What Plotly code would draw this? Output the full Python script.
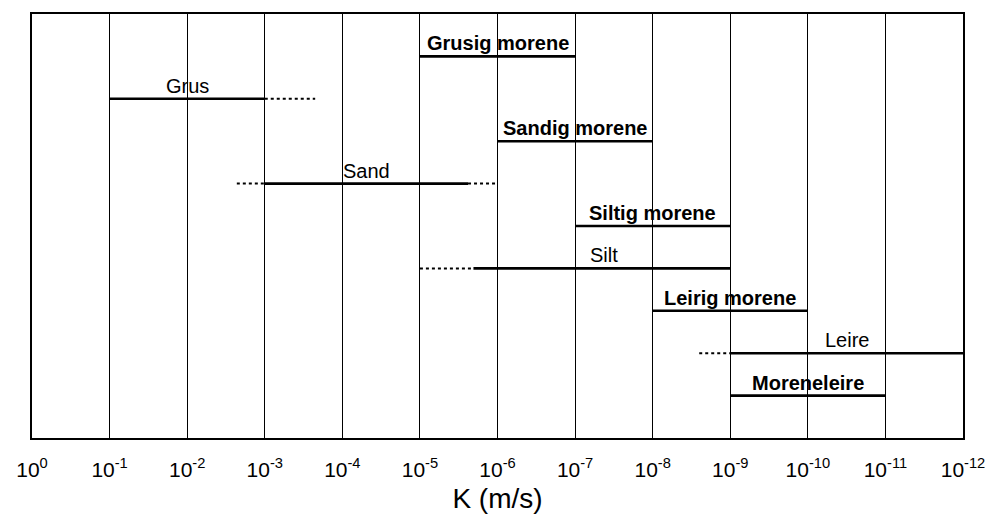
import numpy as np
import plotly.graph_objects as go

# ---- data ----
names = ["Grusig morene", "Grus", "Sandig morene", "Sand", "Siltig morene",
         "Silt", "Leirig morene", "Leire", "Moreneleire"]
rows = [1, 2, 3, 4, 5, 6, 7, 8, 9]
# solid range of K (m/s): high, low
solid_hi = [1e-5, 1e-1, 1e-6, 1e-3, 1e-7, 10**-5.69, 1e-8, 1e-9, 1e-9]
solid_lo = [1e-7, 1e-3, 1e-8, 10**-5.62, 1e-9, 1e-9, 1e-10, 1e-12, 1e-11]
# uncertain (dotted) extensions: list of (from, to) per row
dotted = {
    "Grus": [(1e-3, 10**-3.65)],
    "Sand": [(10**-2.64, 1e-3), (10**-5.62, 1e-6)],
    "Silt": [(1e-5, 10**-5.69)],
    "Leire": [(10**-8.6, 1e-9)],
}
label_x = [1e-6, 1e-2, 1e-7, 10**-4.31, 1e-8, 10**-7.37, 1e-9, 10**-10.5, 1e-10]
bold = [True, False, True, False, True, False, True, False, True]

exps = list(range(0, -13, -1))
tick_vals = [10.0**e for e in exps]
tick_text = ["10<sup>%d</sup>" % e for e in exps]

fig = go.Figure()
for i, n in enumerate(names):
    fig.add_trace(go.Scatter(x=[solid_hi[i], solid_lo[i]], y=[rows[i], rows[i]],
                             mode="lines", line=dict(color="black", width=2.6),
                             showlegend=False, hoverinfo="skip"))
    for (a, b) in dotted.get(n, []):
        fig.add_trace(go.Scatter(x=[a, b], y=[rows[i], rows[i]], mode="lines",
                                 line=dict(color="black", width=2, dash="dot"),
                                 showlegend=False, hoverinfo="skip"))
    txt = "<b>%s</b>" % n if bold[i] else n
    fig.add_annotation(x=np.log10(label_x[i]), y=rows[i], text=txt, showarrow=False,
                       yanchor="middle", yshift=13,
                       font=dict(family="Liberation Sans, Arial", size=20, color="black"))

fig.update_xaxes(type="log", range=[0, -12], tickvals=tick_vals, ticktext=tick_text,
                 showgrid=True, gridcolor="black", gridwidth=1.3,
                 showline=True, linecolor="black", linewidth=1.8, mirror=True,
                 ticks="", ticklabelstandoff=12, zeroline=False, automargin=False,
                 ticklabeloverflow="allow",
                 tickfont=dict(family="Liberation Sans, Arial", size=21, color="black"),
                 title=dict(text="K (m/s)", standoff=8,
                            font=dict(family="Liberation Sans, Arial", size=28, color="black")))
fig.update_yaxes(range=[10, 0], showgrid=False, showticklabels=False, zeroline=False,
                 showline=True, linecolor="black", linewidth=1.8, mirror=True, ticks="",
                 automargin=False)
fig.update_layout(width=985, height=517, margin=dict(l=32, r=22, t=14, b=79),
                  plot_bgcolor="white", paper_bgcolor="white")
fig.write_html("out.html")
